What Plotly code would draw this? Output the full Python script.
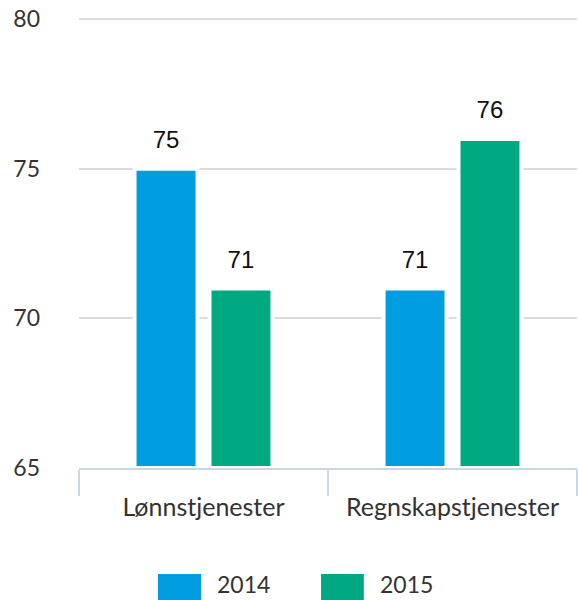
import plotly.graph_objects as go

categories = ["Lønnstjenester", "Regnskapstjenester"]
series_names = ["2014", "2015"]
values_2014 = [75, 71]
values_2015 = [71, 76]
y_ticks = [65, 70, 75, 80]
y_base = 65

colors = ["#009EE0", "#00A982"]
axis_font = "Lato, 'Source Sans Pro', 'Noto Sans', sans-serif"
label_font = "'Liberation Sans', Arial, sans-serif"

fig = go.Figure()
for name, vals, col in zip(series_names, [values_2014, values_2015], colors):
    fig.add_trace(go.Bar(
        x=categories, y=[v - y_base for v in vals], base=y_base, name=name,
        offsetgroup=name,
        marker=dict(color=col, line=dict(color="white", width=4)),
        showlegend=False,
    ))
for name, vals in zip(series_names, [values_2014, values_2015]):
    fig.add_trace(go.Scatter(
        x=categories, y=vals, offsetgroup=name, mode="markers+text",
        text=[str(v) for v in vals], textposition="top center",
        marker=dict(size=22, color="rgba(0,0,0,0)"),
        textfont=dict(family=label_font, size=24, color="#111111"),
        showlegend=False, cliponaxis=False, hoverinfo="skip",
    ))

fig.update_layout(
    width=578, height=600,
    margin=dict(l=79, r=1, t=18, b=132),
    plot_bgcolor="white", paper_bgcolor="white",
    barmode="group", bargap=0.398, bargroupgap=0.16,
    scattermode="group", scattergap=0.398,
    font=dict(family=axis_font, size=25, color="#333333"),
)
fig.update_xaxes(
    type="category", showline=True, linecolor="#C9D7E6", linewidth=2,
    ticks="outside", tickson="boundaries", ticklen=26, tickwidth=2,
    tickcolor="#C9D7E6", showgrid=False, automargin=False,
    ticklabelstandoff=16,
    tickfont=dict(family=axis_font, size=25, color="#333333"),
)
fig.update_yaxes(
    range=[65, 80.04], tickvals=y_ticks, showgrid=True, gridcolor="#DCDCDC",
    gridwidth=2, zeroline=False, showline=False, ticks="",
    ticklabelstandoff=38, automargin=False,
    tickfont=dict(family=axis_font, size=23, color="#333333"),
)

# custom legend
legend_pos = [(0.1586, 0.245, 0.273), (0.486, 0.572, 0.600)]
for (x0, x1, tx), col, name in zip(legend_pos, colors, series_names):
    fig.add_shape(type="rect", xref="paper", yref="paper", x0=x0, x1=x1,
                  y0=-0.2356, y1=-0.2933, fillcolor=col, line=dict(width=0))
    fig.add_annotation(xref="paper", yref="paper", x=tx, y=-0.2933, text=name,
                       showarrow=False, xanchor="left", yanchor="bottom",
                       font=dict(family=axis_font, size=23, color="#333333"))

fig.write_html("out.html", config={"displayModeBar": False},
               post_script="document.body.style.margin='0';")
